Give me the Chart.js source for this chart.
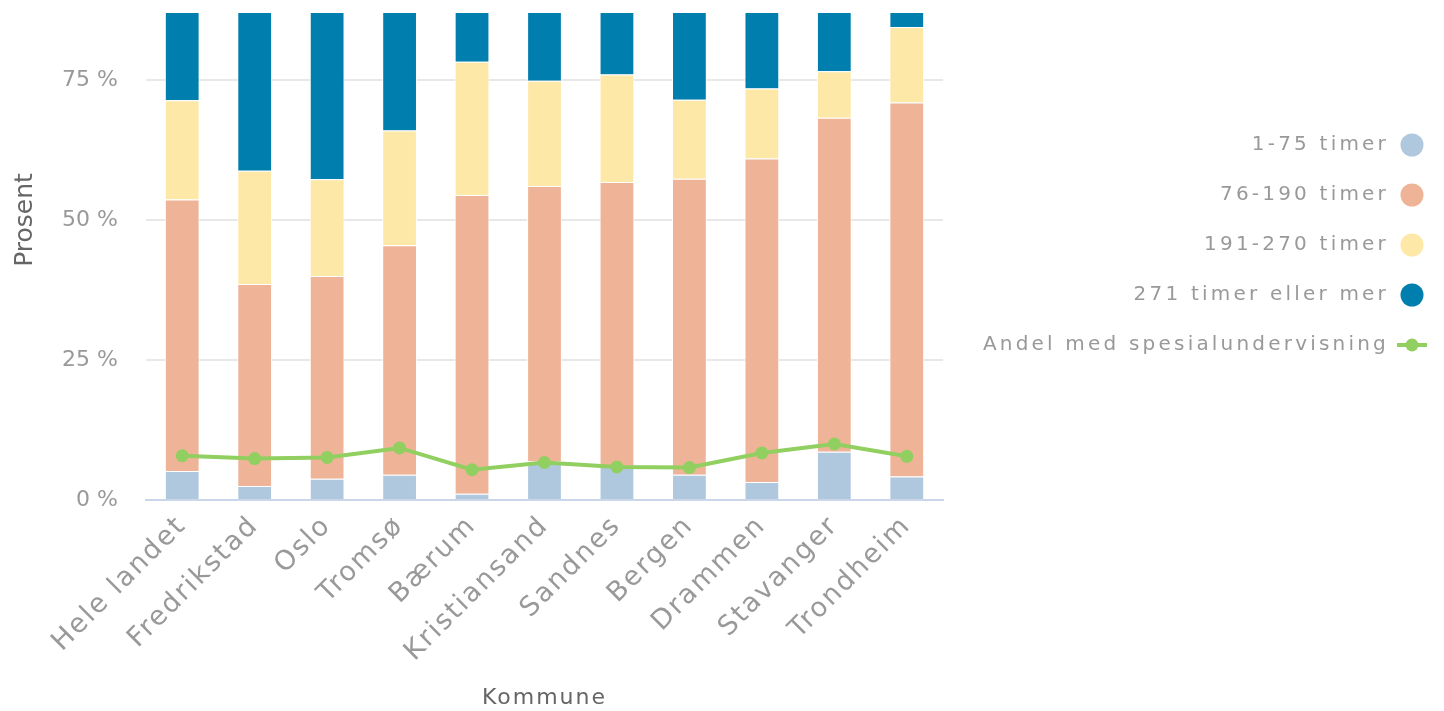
<!DOCTYPE html>
<html><head><meta charset="utf-8">
<script src="https://cdn.jsdelivr.net/npm/chart.js@4.4.1/dist/chart.umd.min.js"></script>
<style>html,body{margin:0;padding:0;background:#fff;overflow:hidden}#wrap{width:1444px;height:711px;position:relative}</style>
</head><body><div id="wrap"><canvas id="c"></canvas></div>
<script>
const categories = ['Hele landet','Fredrikstad','Oslo','Tromsø','Bærum','Kristiansand','Sandnes','Bergen','Drammen','Stavanger','Trondheim'];
const seriesNames = ['1-75 timer','76-190 timer','191-270 timer','271 timer eller mer','Andel med spesialundervisning'];
const hours1to75 = [5.2, 2.5, 3.8, 4.5, 1.1, 6.9, 6.0, 4.5, 3.2, 8.6, 4.2];
const hours76to190 = [48.5, 36.1, 36.2, 41.0, 53.4, 49.2, 50.8, 52.9, 57.8, 59.7, 66.8];
const hours191to270 = [17.7, 20.2, 17.3, 20.5, 23.8, 18.8, 19.2, 14.1, 12.5, 8.3, 13.5];
const hours271plus = [28.6, 41.2, 42.7, 34.0, 21.7, 25.1, 24.0, 28.5, 26.5, 23.4, 15.5];
const shareSpecialEd = [7.9, 7.4, 7.6, 9.3, 5.4, 6.7, 5.9, 5.8, 8.4, 10.0, 7.8];
const yTicks = [0, 25, 50, 75];
const yMax = 87;
const xTitle = 'Kommune';
const yTitle = 'Prosent';

const colors = ['#b0c8dd', '#efb497', '#fee8a8', '#007eae', '#91cf60'];
const FONT = "'DejaVu Sans', Verdana, sans-serif";

// canvas letterSpacing is not included in measureText here; account for it
const _mt = CanvasRenderingContext2D.prototype.measureText;
CanvasRenderingContext2D.prototype.measureText = function (t) {
  const m = _mt.call(this, t);
  const ls = parseFloat(this.letterSpacing) || 0;
  if (!ls) return m;
  return {
    width: m.width + ls * Array.from(String(t)).length,
    actualBoundingBoxAscent: m.actualBoundingBoxAscent,
    actualBoundingBoxDescent: m.actualBoundingBoxDescent,
    actualBoundingBoxLeft: m.actualBoundingBoxLeft,
    actualBoundingBoxRight: m.actualBoundingBoxRight
  };
};

function circleImg(color) {
  const c = document.createElement('canvas'); c.width = 44; c.height = 26;
  const g = c.getContext('2d'); g.fillStyle = color; g.beginPath();
  g.arc(22 + 3, 13, 11.5, 0, Math.PI * 2); g.fill(); return c;
}
function lineImg(color) {
  const c = document.createElement('canvas'); c.width = 44; c.height = 26;
  const g = c.getContext('2d'); const cx = 22 + 3;
  g.strokeStyle = color; g.lineWidth = 4; g.beginPath(); g.moveTo(cx - 15, 13); g.lineTo(cx + 15, 13); g.stroke();
  g.fillStyle = color; g.beginPath(); g.arc(cx, 13, 6.5, 0, Math.PI * 2); g.fill(); return c;
}
const legendImgs = [circleImg(colors[0]), circleImg(colors[1]), circleImg(colors[2]), circleImg(colors[3]), lineImg(colors[4])];

const barSeries = [hours1to75, hours76to190, hours191to270, hours271plus];
const datasets = barSeries.map((d, i) => ({
  type: 'bar', label: seriesNames[i], data: d, backgroundColor: colors[i],
  borderColor: '#ffffff', borderWidth: 1, barPercentage: 0.48, categoryPercentage: 1, order: 1, stack: 'bars'
}));
datasets.push({
  type: 'line', label: seriesNames[4], data: shareSpecialEd, borderColor: colors[4], backgroundColor: colors[4],
  borderWidth: 4, pointRadius: 6.5, pointHoverRadius: 6.5, pointBorderWidth: 0, tension: 0, order: 0, stack: 'line'
});

function withSpacing(chart, obj, names, sp, after) {
  names.forEach(n => {
    const f = obj[n].bind(obj);
    obj[n] = function (...a) {
      const c = chart.ctx; const old = c.letterSpacing;
      c.letterSpacing = sp;
      try { const r = f(...a); if (after && after[n]) after[n](obj); return r; }
      finally { c.letterSpacing = old || '0px'; }
    };
  });
}

const LEGEND_W = 506;
const helperPlugin = {
  id: 'helper',
  beforeLayout(chart) {
    if (chart.$wrapped) return; chart.$wrapped = true;
    withSpacing(chart, chart.legend, ['fit', 'draw'], '3.2px', { fit: (lg) => { lg.width = LEGEND_W; } });
    withSpacing(chart, chart.scales.x, ['update', 'draw'], '2px');
  },
  afterDraw(chart) {
    const c = chart.ctx; c.save();
    c.translate(32, 220); c.rotate(-Math.PI / 2);
    c.font = "25px " + FONT; c.fillStyle = '#666666'; c.textAlign = 'center'; c.textBaseline = 'alphabetic';
    c.fillText(yTitle, 0, 0); c.restore();
  }
};

new Chart(document.getElementById('c'), {
  data: { labels: categories, datasets },
  options: {
    responsive: true, maintainAspectRatio: false, animation: false,
    layout: { padding: { left: 63, right: -5, top: 13, bottom: 0 } },
    scales: {
      x: {
        stacked: true,
        afterFit: (s) => { s.height = 211; s.paddingLeft = 0; s.paddingRight = 0; },
        grid: { display: false, drawTicks: false },
        border: { display: true, color: '#ccd6eb', width: 2 },
        ticks: { autoSkip: false, maxRotation: 45, minRotation: 45, padding: 10, color: '#999999', font: { family: FONT, size: 27 } },
        title: { display: true, text: xTitle, color: '#666666', font: { family: FONT, size: 22 }, padding: { top: 10, bottom: 0 } }
      },
      y: {
        stacked: true, min: 0, max: yMax,
        afterBuildTicks: (s) => { s.ticks = yTicks.map(v => ({ value: v })); },
        afterFit: (s) => { s.paddingTop = 0; s.paddingBottom = 0; s.width = 83; },
        grid: { color: '#e8e8e8', lineWidth: 2, drawTicks: false },
        border: { display: false },
        ticks: { padding: 28, color: '#999999', font: { family: FONT, size: 22 }, callback: (v) => v + ' %' }
      }
    },
    plugins: {
      tooltip: { enabled: false },
      legend: {
        position: 'right', align: 'start', rtl: true, maxWidth: 800,
        title: { display: true, text: '', font: { size: 10, lineHeight: 1 }, padding: { top: 82, bottom: 0 } },
        labels: {
          usePointStyle: true, boxWidth: 20, boxHeight: 20, padding: 30, color: '#999999',
          font: { family: FONT, size: 20 },
          sort: (a, b) => a.datasetIndex - b.datasetIndex,
          generateLabels: (chart) => {
            const items = Chart.defaults.plugins.legend.labels.generateLabels(chart);
            items.forEach(it => { it.pointStyle = legendImgs[it.datasetIndex]; it.fontColor = '#999999'; });
            return items;
          }
        }
      }
    }
  },
  plugins: [helperPlugin]
});
</script></body></html>
